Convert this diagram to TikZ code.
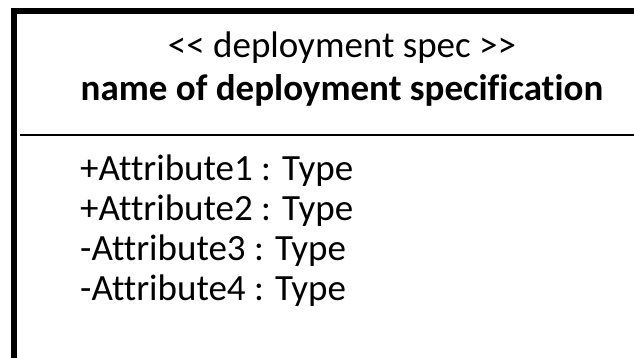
\documentclass[tikz,border=0pt]{standalone}
\usepackage{fontspec}
\setmainfont{Carlito}[Ligatures={ResetAll,NoCommon}]

\begin{document}
\begin{tikzpicture}[x=1pt,y=-1pt,
  label/.style={font=\fontsize{37}{40}\selectfont,inner sep=0pt},
  frame/.style={line width=6pt,line join=miter}]
  \useasboundingbox (0,0) rectangle (634,357);
  \clip (0,0) rectangle (634,357);
  % outer frame (only top and left edges are visible)
  \draw[frame] (14,370) -- (14,11) -- (650,11);
  % compartment divider
  \draw[line width=1.8pt] (20,135) -- (650,135);
  % header
  \node[label,anchor=base] (stereo) at (342,57)
    {\textless{}\textless{} deployment spec \textgreater{}\textgreater};
  \node[label,anchor=base,font=\fontsize{37}{40}\selectfont\bfseries] (specname) at (342,100)
    {name of deployment specification};
  % attributes
  \foreach \y/\attr [count=\i] in {180/+Attribute1,220/+Attribute2,260/-Attribute3,300/-Attribute4}
    \node[label,anchor=base west] (attr\i) at (80,\y) {\attr\ : Type};
\end{tikzpicture}
\end{document}
